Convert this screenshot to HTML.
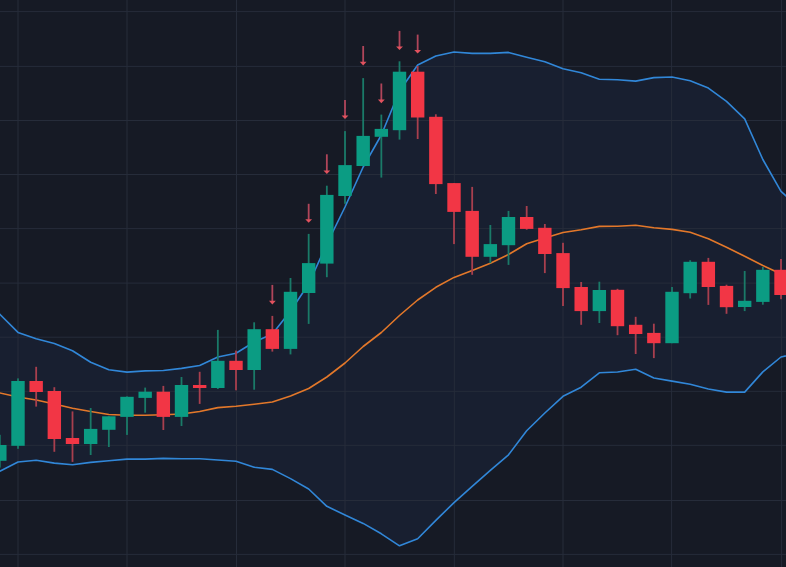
<!DOCTYPE html>
<html><head><meta charset="utf-8"><title>Chart</title>
<style>
html,body{margin:0;padding:0;background:#161a25;width:786px;height:567px;overflow:hidden;font-family:"Liberation Sans",sans-serif;}
svg{display:block;}
</style></head><body>
<svg width="786" height="567" viewBox="0 0 786 567">
<rect width="786" height="567" fill="#161a25"/>
<polygon points="-18.33,296.00 -0.17,314.30 18.00,332.40 36.17,338.80 54.33,343.60 72.50,350.80 90.67,362.30 108.84,369.80 127.00,372.10 145.17,370.90 163.34,370.50 181.50,368.40 199.67,365.50 217.84,357.00 236.00,353.20 254.17,342.00 272.34,334.00 290.51,311.00 308.67,284.00 326.84,244.00 345.01,207.00 363.17,167.00 381.34,135.00 399.51,91.00 417.67,65.00 435.84,56.00 454.01,52.00 472.18,53.40 490.34,53.40 508.51,52.40 526.68,57.20 544.84,61.80 563.01,68.70 581.18,72.70 599.34,79.20 617.51,79.80 635.68,81.10 653.85,77.60 672.01,77.00 690.18,80.80 708.35,88.10 726.51,101.40 744.68,118.90 762.85,159.50 781.01,191.30 799.18,208.00 799.18,353.00 781.01,357.00 762.85,371.90 744.68,392.10 726.51,392.10 708.35,389.00 690.18,384.20 672.01,381.10 653.85,378.00 635.68,369.30 617.51,372.00 599.34,372.80 581.18,387.20 563.01,396.30 544.84,413.00 526.68,430.70 508.51,454.80 490.34,470.40 472.18,486.30 454.01,502.60 435.84,520.40 417.67,538.70 399.51,545.80 381.34,533.80 363.17,523.40 345.01,515.00 326.84,506.30 308.67,489.00 290.51,478.60 272.34,469.40 254.17,467.20 236.00,461.20 217.84,460.00 199.67,458.80 181.50,458.80 163.34,458.40 145.17,459.10 127.00,459.10 108.84,460.80 90.67,462.40 72.50,464.70 54.33,463.10 36.17,460.30 18.00,462.00 -0.17,471.30 -18.33,481.00" fill="rgba(72,126,237,0.06)"/>
<g stroke="#262c3a" stroke-width="1"><line x1="18" y1="0" x2="18" y2="567"/><line x1="127" y1="0" x2="127" y2="567"/><line x1="236.5" y1="0" x2="236.5" y2="567"/><line x1="345" y1="0" x2="345" y2="567"/><line x1="454.3" y1="0" x2="454.3" y2="567"/><line x1="563" y1="0" x2="563" y2="567"/><line x1="671.6" y1="0" x2="671.6" y2="567"/><line x1="781.6" y1="0" x2="781.6" y2="567"/><line x1="0" y1="11.60" x2="786" y2="11.60"/><line x1="0" y1="66.40" x2="786" y2="66.40"/><line x1="0" y1="120.50" x2="786" y2="120.50"/><line x1="0" y1="174.50" x2="786" y2="174.50"/><line x1="0" y1="228.60" x2="786" y2="228.60"/><line x1="0" y1="283.10" x2="786" y2="283.10"/><line x1="0" y1="337.20" x2="786" y2="337.20"/><line x1="0" y1="391.30" x2="786" y2="391.30"/><line x1="0" y1="445.30" x2="786" y2="445.30"/><line x1="0" y1="500.50" x2="786" y2="500.50"/><line x1="0" y1="554.40" x2="786" y2="554.40"/></g>
<polyline points="-18.33,296.00 -0.17,314.30 18.00,332.40 36.17,338.80 54.33,343.60 72.50,350.80 90.67,362.30 108.84,369.80 127.00,372.10 145.17,370.90 163.34,370.50 181.50,368.40 199.67,365.50 217.84,357.00 236.00,353.20 254.17,342.00 272.34,334.00 290.51,311.00 308.67,284.00 326.84,244.00 345.01,207.00 363.17,167.00 381.34,135.00 399.51,91.00 417.67,65.00 435.84,56.00 454.01,52.00 472.18,53.40 490.34,53.40 508.51,52.40 526.68,57.20 544.84,61.80 563.01,68.70 581.18,72.70 599.34,79.20 617.51,79.80 635.68,81.10 653.85,77.60 672.01,77.00 690.18,80.80 708.35,88.10 726.51,101.40 744.68,118.90 762.85,159.50 781.01,191.30 799.18,208.00" fill="none" stroke="#3187d8" stroke-width="1.6" stroke-linejoin="round"/>
<polyline points="-18.33,481.00 -0.17,471.30 18.00,462.00 36.17,460.30 54.33,463.10 72.50,464.70 90.67,462.40 108.84,460.80 127.00,459.10 145.17,459.10 163.34,458.40 181.50,458.80 199.67,458.80 217.84,460.00 236.00,461.20 254.17,467.20 272.34,469.40 290.51,478.60 308.67,489.00 326.84,506.30 345.01,515.00 363.17,523.40 381.34,533.80 399.51,545.80 417.67,538.70 435.84,520.40 454.01,502.60 472.18,486.30 490.34,470.40 508.51,454.80 526.68,430.70 544.84,413.00 563.01,396.30 581.18,387.20 599.34,372.80 617.51,372.00 635.68,369.30 653.85,378.00 672.01,381.10 690.18,384.20 708.35,389.00 726.51,392.10 744.68,392.10 762.85,371.90 781.01,357.00 799.18,353.00" fill="none" stroke="#3187d8" stroke-width="1.6" stroke-linejoin="round"/>
<polyline points="-18.33,389.00 -0.17,393.00 18.00,397.00 36.17,400.00 54.33,404.00 72.50,408.20 90.67,411.50 108.84,414.50 127.00,415.30 145.17,415.30 163.34,414.80 181.50,414.00 199.67,411.50 217.84,407.60 236.00,406.30 254.17,404.30 272.34,402.00 290.51,396.00 308.67,388.50 326.84,377.00 345.01,363.00 363.17,346.50 381.34,332.50 399.51,315.50 417.67,300.00 435.84,287.30 454.01,277.40 472.18,270.50 490.34,263.20 508.51,254.50 526.68,243.80 544.84,238.00 563.01,232.50 581.18,229.80 599.34,226.40 617.51,226.30 635.68,225.20 653.85,227.80 672.01,229.40 690.18,232.20 708.35,238.80 726.51,247.30 744.68,256.30 762.85,265.50 781.01,274.00 799.18,282.00" fill="none" stroke="#e3782a" stroke-width="1.6" stroke-linejoin="round"/>
<rect x="-1.07" y="434.80" width="1.8" height="32.80" fill="#1a7a68"/>
<rect x="-6.87" y="445.00" width="13.4" height="15.80" fill="#0b9c83"/>
<rect x="17.10" y="378.40" width="1.8" height="70.40" fill="#1a7a68"/>
<rect x="11.30" y="381.00" width="13.4" height="64.80" fill="#0b9c83"/>
<rect x="35.27" y="366.80" width="1.8" height="39.80" fill="#a83f4e"/>
<rect x="29.47" y="381.00" width="13.4" height="11.00" fill="#f23645"/>
<rect x="53.43" y="387.20" width="1.8" height="64.60" fill="#a83f4e"/>
<rect x="47.63" y="391.00" width="13.4" height="48.00" fill="#f23645"/>
<rect x="71.60" y="411.40" width="1.8" height="50.50" fill="#a83f4e"/>
<rect x="65.80" y="438.00" width="13.4" height="6.00" fill="#f23645"/>
<rect x="89.77" y="408.00" width="1.8" height="47.00" fill="#1a7a68"/>
<rect x="83.97" y="428.90" width="13.4" height="15.10" fill="#0b9c83"/>
<rect x="107.94" y="416.30" width="1.8" height="30.70" fill="#1a7a68"/>
<rect x="102.14" y="416.30" width="13.4" height="13.50" fill="#0b9c83"/>
<rect x="126.10" y="396.40" width="1.8" height="38.50" fill="#1a7a68"/>
<rect x="120.30" y="396.80" width="13.4" height="20.10" fill="#0b9c83"/>
<rect x="144.27" y="387.60" width="1.8" height="25.10" fill="#1a7a68"/>
<rect x="138.47" y="391.70" width="13.4" height="6.20" fill="#0b9c83"/>
<rect x="162.44" y="385.90" width="1.8" height="44.10" fill="#a83f4e"/>
<rect x="156.64" y="391.70" width="13.4" height="25.20" fill="#f23645"/>
<rect x="180.60" y="377.00" width="1.8" height="49.00" fill="#1a7a68"/>
<rect x="174.80" y="385.00" width="13.4" height="31.90" fill="#0b9c83"/>
<rect x="198.77" y="371.80" width="1.8" height="32.10" fill="#a83f4e"/>
<rect x="192.97" y="385.00" width="13.4" height="3.00" fill="#f23645"/>
<rect x="216.94" y="329.90" width="1.8" height="59.10" fill="#1a7a68"/>
<rect x="211.14" y="360.80" width="13.4" height="27.20" fill="#0b9c83"/>
<rect x="235.10" y="350.60" width="1.8" height="39.70" fill="#a83f4e"/>
<rect x="229.30" y="360.80" width="13.4" height="9.20" fill="#f23645"/>
<rect x="253.27" y="322.30" width="1.8" height="67.40" fill="#1a7a68"/>
<rect x="247.47" y="329.20" width="13.4" height="40.80" fill="#0b9c83"/>
<rect x="271.44" y="315.90" width="1.8" height="35.70" fill="#a83f4e"/>
<rect x="265.64" y="329.20" width="13.4" height="19.70" fill="#f23645"/>
<rect x="289.61" y="278.00" width="1.8" height="76.40" fill="#1a7a68"/>
<rect x="283.81" y="291.80" width="13.4" height="57.10" fill="#0b9c83"/>
<rect x="307.77" y="233.90" width="1.8" height="90.00" fill="#1a7a68"/>
<rect x="301.97" y="263.10" width="13.4" height="29.90" fill="#0b9c83"/>
<rect x="325.94" y="185.70" width="1.8" height="91.50" fill="#1a7a68"/>
<rect x="320.14" y="194.90" width="13.4" height="68.70" fill="#0b9c83"/>
<rect x="344.11" y="131.10" width="1.8" height="72.70" fill="#1a7a68"/>
<rect x="338.31" y="165.10" width="13.4" height="30.90" fill="#0b9c83"/>
<rect x="362.27" y="78.10" width="1.8" height="87.90" fill="#1a7a68"/>
<rect x="356.47" y="135.90" width="13.4" height="30.10" fill="#0b9c83"/>
<rect x="380.44" y="114.60" width="1.8" height="63.00" fill="#1a7a68"/>
<rect x="374.64" y="128.90" width="13.4" height="7.90" fill="#0b9c83"/>
<rect x="398.61" y="61.30" width="1.8" height="78.30" fill="#1a7a68"/>
<rect x="392.81" y="71.70" width="13.4" height="58.50" fill="#0b9c83"/>
<rect x="416.77" y="66.00" width="1.8" height="73.00" fill="#a83f4e"/>
<rect x="410.97" y="71.70" width="13.4" height="45.80" fill="#f23645"/>
<rect x="434.94" y="114.30" width="1.8" height="79.70" fill="#a83f4e"/>
<rect x="429.14" y="116.80" width="13.4" height="67.30" fill="#f23645"/>
<rect x="453.11" y="183.00" width="1.8" height="61.10" fill="#a83f4e"/>
<rect x="447.31" y="183.10" width="13.4" height="28.80" fill="#f23645"/>
<rect x="471.28" y="186.90" width="1.8" height="87.90" fill="#a83f4e"/>
<rect x="465.48" y="210.90" width="13.4" height="45.90" fill="#f23645"/>
<rect x="489.44" y="225.00" width="1.8" height="38.20" fill="#1a7a68"/>
<rect x="483.64" y="244.10" width="13.4" height="12.70" fill="#0b9c83"/>
<rect x="507.61" y="210.90" width="1.8" height="54.00" fill="#1a7a68"/>
<rect x="501.81" y="217.00" width="13.4" height="28.20" fill="#0b9c83"/>
<rect x="525.78" y="206.00" width="1.8" height="23.70" fill="#a83f4e"/>
<rect x="519.98" y="217.00" width="13.4" height="11.90" fill="#f23645"/>
<rect x="543.94" y="224.00" width="1.8" height="49.10" fill="#a83f4e"/>
<rect x="538.14" y="227.80" width="13.4" height="26.20" fill="#f23645"/>
<rect x="562.11" y="242.80" width="1.8" height="63.20" fill="#a83f4e"/>
<rect x="556.31" y="253.10" width="13.4" height="35.00" fill="#f23645"/>
<rect x="580.28" y="282.00" width="1.8" height="42.80" fill="#a83f4e"/>
<rect x="574.48" y="287.00" width="13.4" height="24.10" fill="#f23645"/>
<rect x="598.44" y="281.70" width="1.8" height="41.30" fill="#1a7a68"/>
<rect x="592.64" y="290.00" width="13.4" height="21.10" fill="#0b9c83"/>
<rect x="616.61" y="288.80" width="1.8" height="46.40" fill="#a83f4e"/>
<rect x="610.81" y="289.80" width="13.4" height="36.40" fill="#f23645"/>
<rect x="634.78" y="316.80" width="1.8" height="37.20" fill="#a83f4e"/>
<rect x="628.98" y="324.80" width="13.4" height="9.20" fill="#f23645"/>
<rect x="652.95" y="323.70" width="1.8" height="34.40" fill="#a83f4e"/>
<rect x="647.14" y="332.90" width="13.4" height="10.30" fill="#f23645"/>
<rect x="671.11" y="287.00" width="1.8" height="56.20" fill="#1a7a68"/>
<rect x="665.31" y="291.80" width="13.4" height="51.40" fill="#0b9c83"/>
<rect x="689.28" y="260.20" width="1.8" height="38.30" fill="#1a7a68"/>
<rect x="683.48" y="261.80" width="13.4" height="31.40" fill="#0b9c83"/>
<rect x="707.45" y="257.90" width="1.8" height="47.00" fill="#a83f4e"/>
<rect x="701.65" y="261.80" width="13.4" height="25.20" fill="#f23645"/>
<rect x="725.61" y="284.70" width="1.8" height="29.10" fill="#a83f4e"/>
<rect x="719.81" y="285.90" width="13.4" height="21.30" fill="#f23645"/>
<rect x="743.78" y="271.00" width="1.8" height="40.10" fill="#1a7a68"/>
<rect x="737.98" y="300.80" width="13.4" height="6.20" fill="#0b9c83"/>
<rect x="761.95" y="267.00" width="1.8" height="37.70" fill="#1a7a68"/>
<rect x="756.15" y="269.80" width="13.4" height="32.10" fill="#0b9c83"/>
<rect x="780.11" y="259.00" width="1.8" height="40.20" fill="#a83f4e"/>
<rect x="774.31" y="269.80" width="13.4" height="25.20" fill="#f23645"/>
<rect x="271.44" y="284.90" width="1.8" height="16.50" fill="#b0455a"/>
<path d="M268.94,300.80 L275.74,300.80 L272.34,304.40 Z" fill="#e2525e"/>
<rect x="307.77" y="203.80" width="1.8" height="16.00" fill="#b0455a"/>
<path d="M305.27,219.20 L312.07,219.20 L308.67,222.80 Z" fill="#e2525e"/>
<rect x="325.94" y="154.30" width="1.8" height="16.80" fill="#b0455a"/>
<path d="M323.44,170.50 L330.24,170.50 L326.84,174.10 Z" fill="#e2525e"/>
<rect x="344.11" y="100.00" width="1.8" height="16.00" fill="#b0455a"/>
<path d="M341.61,115.40 L348.41,115.40 L345.01,119.00 Z" fill="#e2525e"/>
<rect x="362.27" y="46.00" width="1.8" height="16.40" fill="#b0455a"/>
<path d="M359.77,61.80 L366.57,61.80 L363.17,65.40 Z" fill="#e2525e"/>
<rect x="380.44" y="83.50" width="1.8" height="16.70" fill="#b0455a"/>
<path d="M377.94,99.60 L384.74,99.60 L381.34,103.20 Z" fill="#e2525e"/>
<rect x="398.61" y="30.90" width="1.8" height="16.10" fill="#b0455a"/>
<path d="M396.11,46.40 L402.91,46.40 L399.51,50.00 Z" fill="#e2525e"/>
<rect x="416.77" y="34.60" width="1.8" height="16.00" fill="#b0455a"/>
<path d="M414.27,50.00 L421.07,50.00 L417.67,53.60 Z" fill="#e2525e"/>
</svg>
</body></html>
